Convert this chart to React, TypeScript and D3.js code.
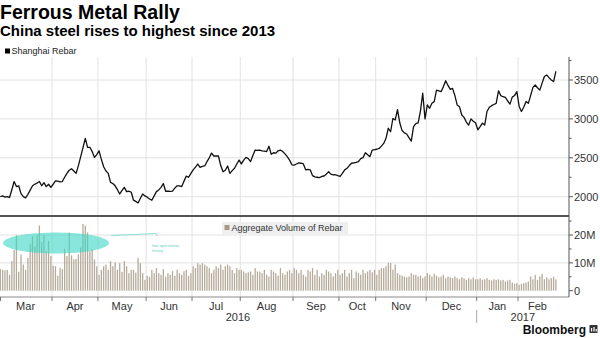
import React from "react";
import * as d3 from "d3";

// Month labels and trading days per month (Mar 2016 – Feb 2017)
const monthLabels = ["Mar", "Apr", "May", "Jun", "Jul", "Aug", "Sep", "Oct", "Nov", "Dec", "Jan", "Feb"];
const monthTradingDays = [23, 20, 21, 20, 21, 23, 20, 16, 22, 22, 18, 17];
const yearLabels = ["2016", "2017"];
const yearStartMonth = [0, 10];

// Shanghai rebar price (yuan/ton), one value per trading day
const rebarPrice = [
  2000, 2010, 1995, 2000, 1990, 2090, 2195, 2130, 2140, 2040, 2000, 1985, 2030, 2085, 2140, 2160, 2175, 2195, 2140, 2180, 2130, 2160, 2120,
  2160, 2202, 2200, 2190, 2195, 2250, 2300, 2340, 2360, 2330, 2300, 2400, 2515, 2630, 2750, 2635, 2635, 2580, 2505, 2540,
  2590, 2480, 2385, 2330, 2300, 2185, 2170, 2140, 2090, 2035, 2080, 2120, 2065, 2070, 2060, 1955, 1940, 1920, 1980, 2035, 2010,
  1993, 1970, 1955, 2010, 2065, 2087, 2120, 2170, 2070, 2070, 2068, 2072, 2110, 2140, 2138, 2130, 2200, 2265, 2250, 2300,
  2345, 2380, 2420, 2378, 2390, 2395, 2450, 2500, 2560, 2523, 2525, 2523, 2400, 2320, 2340, 2395, 2300, 2335, 2365, 2420, 2470,
  2421, 2470, 2505, 2490, 2451, 2530, 2600, 2595, 2600, 2590, 2585, 2580, 2650, 2545, 2565, 2560, 2590, 2600, 2580, 2550, 2515, 2470, 2410,
  2405, 2420, 2435, 2430, 2421, 2345, 2350, 2345, 2270, 2255, 2250, 2245, 2260, 2266, 2290, 2320, 2290, 2280, 2282, 2270,
  2260, 2300, 2345, 2365, 2400, 2430, 2435, 2440, 2451, 2490, 2502, 2565, 2540, 2515, 2600, 2605,
  2610, 2620, 2650, 2685, 2750, 2880, 2835, 3005, 2986, 3120, 2950, 2850, 2820, 2806, 2760, 2715, 2900, 2940, 2950, 3100, 3330, 3000,
  3180, 3136, 3200, 3222, 3370, 3360, 3350, 3415, 3490, 3430, 3380, 3393, 3300, 3180, 3157, 3050, 3020, 2960, 2920, 3000, 2970, 2951,
  2860, 2900, 2945, 2922, 3095, 3150, 3170, 3185, 3200, 3360, 3300, 3285, 3277, 3230, 3190, 3280, 3300, 3350,
  3160, 3095, 3150, 3225, 3200, 3300, 3405, 3436, 3400, 3370, 3460, 3545, 3565, 3530, 3500, 3480, 3610,
];

// Aggregate volume of rebar (millions), one value per trading day
const rebarVolume = [
  7.8, 7.5, 7.3, 7.5, 5.7, 10.6, 14.6, 19.9, 6.8, 13.0, 9.4, 7.5, 11.8, 16.7, 19.5, 16.0, 19.9, 23.4, 17.5, 19.9, 14.2, 17.9, 12.5,
  9.0, 8.8, 5.4, 8.2, 7.8, 15.1, 12.4, 20.9, 12.7, 11.2, 11.4, 13.0, 15.5, 24.0, 23.4, 20.9, 14.2, 14.9, 11.2, 8.8,
  5.7, 7.5, 8.8, 9.4, 7.5, 10.6, 8.8, 10.2, 7.5, 9.9, 6.8, 10.6, 8.8, 6.3, 7.5, 7.5, 6.5, 11.8, 9.9, 6.3, 3.9,
  5.3, 5.0, 7.5, 6.3, 8.1, 6.3, 5.7, 7.8, 5.0, 6.3, 5.7, 7.0, 5.3, 7.5, 6.3, 5.7, 7.0, 7.5, 5.3, 6.3,
  8.8, 8.1, 9.9, 9.4, 9.9, 9.4, 8.8, 8.1, 6.3, 7.5, 8.8, 8.1, 9.4, 7.5, 8.8, 9.4, 8.8, 7.5, 6.3, 8.1, 7.5,
  7.5, 6.9, 6.3, 6.6, 6.9, 5.7, 8.1, 6.9, 6.9, 6.3, 7.5, 5.7, 5.1, 7.5, 6.9, 6.3, 5.4, 8.1, 6.3, 5.7, 6.9, 7.5, 6.3,
  8.1, 7.5, 6.3, 7.5, 5.7, 5.1, 7.5, 6.9, 8.1, 5.7, 7.5, 5.1, 6.3, 5.7, 7.5, 6.9, 6.3, 5.1, 6.3, 7.5,
  5.7, 6.3, 7.5, 5.1, 6.3, 7.5, 4.5, 6.9, 6.3, 5.7, 7.5, 6.3, 6.9, 7.5, 6.6, 7.5,
  5.7, 7.5, 8.1, 8.1, 8.8, 10.0, 10.0, 7.5, 9.4, 6.3, 5.7, 5.4, 5.1, 4.8, 5.1, 6.3, 5.7, 5.7, 5.1, 5.4, 4.5, 5.1,
  6.3, 5.7, 5.1, 6.1, 5.4, 4.8, 5.1, 5.7, 4.5, 5.1, 4.8, 4.5, 5.1, 4.5, 4.1, 4.8, 4.5, 3.9, 4.5, 4.1, 4.8, 4.1,
  4.1, 4.5, 3.9, 4.1, 4.5, 3.9, 3.7, 4.1, 3.9, 4.1, 3.7, 3.9, 3.3, 3.7, 3.9, 2.9, 2.5, 2.7,
  2.1, 2.5, 2.7, 2.9, 3.3, 5.1, 4.1, 5.7, 3.9, 5.1, 6.1, 4.1, 4.8, 4.1, 4.5, 5.1, 4.1,
];

const priceTicks = [2000, 2500, 3000, 3500];
const priceMinorTicks = [2250, 2750, 3250, 3750];
const volumeTicks = [0, 10, 20];
const volumeTickLabels = ["0", "10M", "20M"];
const volumeMinorTicks = [5, 15, 25];

const W = 600;
const H = 338;
const plotRight = 569;
const topPanelTop = 57;
const topPanelBottom = 216;
const bottomPanelBottom = 297;
const FONT = "'Liberation Sans', Arial, sans-serif";

export default function App() {
  const x = d3.scaleLinear().domain([22.5, 225.5]).range([52, 518]);
  const yPrice = d3.scaleLinear().domain([2000, 3500]).range([196.7, 80]);
  const yVol = d3.scaleLinear().domain([0, 20]).range([290.7, 235]);

  const starts: number[] = [];
  let acc = 0;
  monthTradingDays.forEach((d) => {
    starts.push(acc);
    acc += d;
  });
  const boundaries = starts.map((s) => x(s - 0.5));
  const endX = x(acc - 0.5);

  const line = d3
    .line<number>()
    .x((_, i) => x(i))
    .y((d) => yPrice(d))
    .curve(d3.curveLinear);

  const gridColor = "#e2e2e2";
  const barW = 1.3;

  const yearBounds = yearStartMonth.map((m, k) => {
    const left = boundaries[m];
    const right = k + 1 < yearStartMonth.length ? boundaries[yearStartMonth[k + 1]] : plotRight;
    return { left, right };
  });

  return (
    <svg
      width={W}
      height={H}
      viewBox={`0 0 ${W} ${H}`}
      style={{ position: "absolute", left: 0, top: 0, background: "#fff", fontFamily: FONT }}
    >
      <rect x={0} y={0} width={W} height={H} fill="#fff" />
      {/* Title */}
      <text x={0} y={18.5} fontSize={19.5} fontWeight="bold" fill="#000">
        Ferrous Metal Rally
      </text>
      <text x={0} y={35.5} fontSize={15} fontWeight="bold" fill="#000">
        China steel rises to highest since 2013
      </text>
      {/* top legend */}
      <rect x={5} y={48.5} width={5} height={5} fill="#000" />
      <text x={11.5} y={54} fontSize={9} fill="#222">
        Shanghai Rebar
      </text>

      {/* vertical grid lines */}
      {boundaries.slice(1).map((bx, i) => (
        <g key={"vg" + i}>
          <line x1={bx} x2={bx} y1={topPanelTop} y2={topPanelBottom} stroke={gridColor} strokeWidth={1} />
          <line x1={bx} x2={bx} y1={topPanelBottom} y2={bottomPanelBottom} stroke={gridColor} strokeWidth={1} />
        </g>
      ))}
      {/* horizontal grid top */}
      {priceTicks.map((t) => (
        <line key={"hp" + t} x1={0} x2={plotRight} y1={yPrice(t)} y2={yPrice(t)} stroke={gridColor} strokeWidth={1} />
      ))}
      {volumeTicks
        .filter((t) => t > 0)
        .map((t) => (
          <line key={"hv" + t} x1={0} x2={plotRight} y1={yVol(t)} y2={yVol(t)} stroke={gridColor} strokeWidth={1} />
        ))}

      {/* volume bars */}
      {rebarVolume.map((v, i) => (
        <rect
          key={"b" + i}
          x={x(i) - barW / 2}
          y={yVol(v)}
          width={barW}
          height={yVol(0) - yVol(v)}
          fill="#b6ab9a"
        />
      ))}

      {/* annotation ellipse */}
      <ellipse cx={56} cy={243} rx={53} ry={10.5} fill="#3fd6c6" fillOpacity={0.62} />
      <polyline
        points="111,235.5 156,233.5 157,236"
        fill="none"
        stroke="#6fd8cf"
        strokeWidth={0.8}
      />
      <text x={152} y={247} fontSize={4} fill="#5ccfc5">
        last speculative
      </text>
      <text x={152} y={252} fontSize={4} fill="#5ccfc5">
        frenzy
      </text>

      {/* price line */}
      <path d={line(rebarPrice) || ""} fill="none" stroke="#111" strokeWidth={1.3} strokeLinejoin="round" />

      {/* bottom legend */}
      <rect x={222} y={222} width={126} height={12} fill="#efefef" />
      <rect x={224.5} y={225} width={5} height={5} fill="#a89a86" />
      <text x={231.5} y={231} fontSize={9} fill="#333">
        Aggregate Volume of Rebar
      </text>

      {/* panel separator and borders */}
      <line x1={0} x2={plotRight} y1={topPanelBottom} y2={topPanelBottom} stroke="#555" strokeWidth={2} />
      <line x1={0} x2={plotRight} y1={bottomPanelBottom} y2={bottomPanelBottom} stroke="#8a8a8a" strokeWidth={1} />
      <line x1={plotRight} x2={plotRight} y1={topPanelTop} y2={bottomPanelBottom} stroke="#555" strokeWidth={1} />

      {/* right axis top */}
      {priceTicks.map((t) => (
        <g key={"pt" + t}>
          <line x1={plotRight} x2={plotRight + 4} y1={yPrice(t)} y2={yPrice(t)} stroke="#555" />
          <text x={574} y={yPrice(t) + 4} fontSize={11} fill="#333">
            {t}
          </text>
        </g>
      ))}
      {priceMinorTicks.map((t) => (
        <line key={"pm" + t} x1={plotRight} x2={plotRight + 2.5} y1={yPrice(t)} y2={yPrice(t)} stroke="#555" />
      ))}
      {/* right axis bottom */}
      {volumeTicks.map((t, i) => (
        <g key={"vt" + t}>
          <line x1={plotRight} x2={plotRight + 4} y1={yVol(t)} y2={yVol(t)} stroke="#555" />
          <text x={574} y={yVol(t) + 4} fontSize={11} fill="#333">
            {volumeTickLabels[i]}
          </text>
        </g>
      ))}
      {volumeMinorTicks.map((t) => (
        <line key={"vm" + t} x1={plotRight} x2={plotRight + 2.5} y1={yVol(t)} y2={yVol(t)} stroke="#555" />
      ))}

      {/* x axis ticks and month labels */}
      {boundaries.map((bx, i) => (
        <line key={"xt" + i} x1={Math.max(bx, 0.5)} x2={Math.max(bx, 0.5)} y1={bottomPanelBottom} y2={bottomPanelBottom + 4} stroke="#777" />
      ))}
      {monthLabels.map((m, i) => {
        const l = boundaries[i];
        const r = i + 1 < boundaries.length ? boundaries[i + 1] : endX;
        return (
          <text key={"ml" + m} x={(l + r) / 2} y={309.5} fontSize={11} fill="#333" textAnchor="middle">
            {m}
          </text>
        );
      })}
      {/* year labels */}
      {yearLabels.map((yl, k) => (
        <text
          key={"yl" + yl}
          x={(yearBounds[k].left + yearBounds[k].right) / 2}
          y={321}
          fontSize={11}
          fill="#333"
          textAnchor="middle"
        >
          {yl}
        </text>
      ))}
      <line x1={boundaries[yearStartMonth[1]]} x2={boundaries[yearStartMonth[1]]} y1={310} y2={323} stroke="#aaa" />

      {/* Bloomberg */}
      <text x={586} y={334} fontSize={12} fontWeight="bold" fill="#111" textAnchor="end">
        Bloomberg
      </text>
      <rect x={589.5} y={325} width={8} height={8} fill="#333" rx={0.5} />
      <rect x={591} y={328} width={1.2} height={3.5} fill="#fff" />
      <rect x={593.4} y={327} width={1.2} height={4.5} fill="#fff" />
      <rect x={595.6} y={329} width={1.2} height={2.5} fill="#fff" />
    </svg>
  );
}
